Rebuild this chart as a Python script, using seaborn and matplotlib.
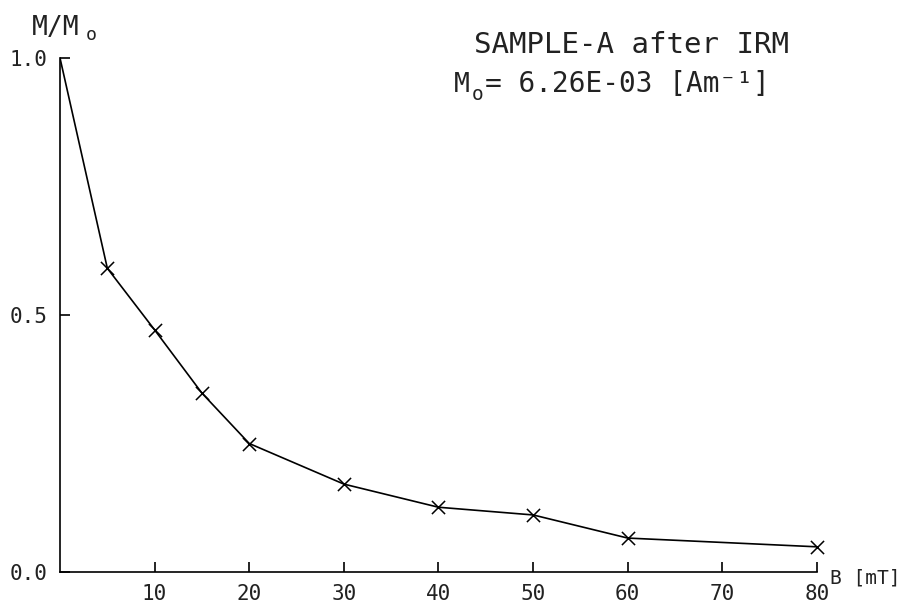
import matplotlib
matplotlib.use("Agg")
import matplotlib.pyplot as plt
import seaborn as sns
import pandas as pd

# data
field_mT = [0, 5, 10, 15, 20, 30, 40, 50, 60, 80]
m_ratio = [1.0, 0.591, 0.471, 0.348, 0.250, 0.171, 0.126, 0.111, 0.066, 0.049]
x_ticks = [10, 20, 30, 40, 50, 60, 70, 80]
y_ticks = [0.0, 0.5, 1.0]

data = pd.DataFrame({"B": field_mT, "M": m_ratio})

sns.set_theme(style="white")
plt.rcParams["font.family"] = ["DejaVu Sans Mono", "DejaVu Sans"]

W, H = 904, 605
fig = plt.figure(figsize=(W / 100, H / 100), dpi=100)
ax = fig.add_axes([60 / W, 33 / H, (817 - 60) / W, (572 - 58) / H])

sns.lineplot(data=data, x="B", y="M", color="black", linewidth=1.2, ax=ax)
sns.scatterplot(data=data.iloc[1:], x="B", y="M", marker="x", s=90,
                color="black", linewidth=1.1, ax=ax, clip_on=False, zorder=3)

ax.set_xlim(0, 80)
ax.set_ylim(0, 1.0)
ax.set_xticks(x_ticks)
ax.set_xticklabels([str(t) for t in x_ticks])
ax.set_yticks(y_ticks)
ax.set_yticklabels([f"{t:.1f}" for t in y_ticks])
ax.set_xlabel("")
ax.set_ylabel("")

sns.despine(ax=ax)
for s in ["left", "bottom"]:
    ax.spines[s].set_color("black")
    ax.spines[s].set_linewidth(1.2)

ax.tick_params(axis="both", direction="in", length=7, width=1.2, color="black",
               labelsize=15, labelcolor="#222222")
ax.tick_params(axis="x", pad=9, bottom=True)
ax.tick_params(axis="y", pad=9, left=True)


def ftext(x, y, s, **kw):
    fig.text(x / W, 1 - y / H, s, color="#222222", **kw)


# axis titles
ftext(32, 35, "M/M", fontsize=19, va="baseline")
ftext(86, 40, "o", fontsize=13, va="baseline")
ftext(830, 583, "B [mT]", fontsize=14, va="baseline")

# header
ftext(632, 53, "SAMPLE-A after IRM", fontsize=21, va="baseline", ha="center")
ftext(454, 92, "M", fontsize=19, va="baseline")
ftext(472, 100, "o", fontsize=14, va="baseline")
ftext(485, 92, "= 6.26E-03 [Am⁻¹]", fontsize=20, va="baseline")

fig.savefig("out.png", dpi=100)
